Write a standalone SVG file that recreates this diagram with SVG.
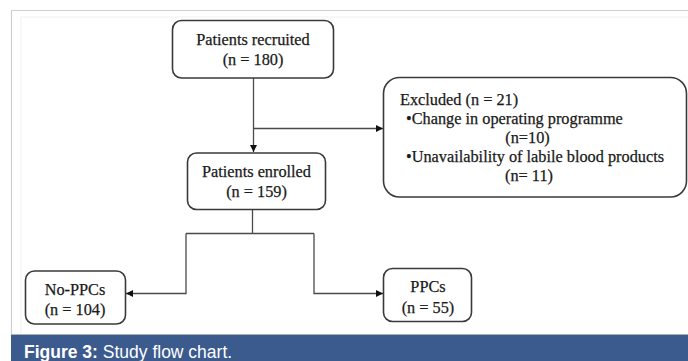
<svg xmlns="http://www.w3.org/2000/svg" width="688" height="361" viewBox="0 0 688 361">
<defs>
<style>
.box{fill:#fff;stroke:#3a3a3a;stroke-width:1.6}
.t{font-family:"Liberation Serif","Times New Roman",serif;font-size:16.3px;fill:#1a1a1a;stroke:#1a1a1a;stroke-width:0.25}
.c{text-anchor:middle}
.ln{fill:none;stroke:#4a4a4a;stroke-width:1.3}
</style>
<marker id="ah" viewBox="0 0 8 8" refX="8" refY="4" markerWidth="7" markerHeight="7" markerUnits="userSpaceOnUse" orient="auto">
<path d="M0,0 L8,4 L0,8 Z" fill="#111"/>
</marker>
</defs>
<rect x="0" y="0" width="688" height="361" fill="#fff"/>
<path d="M11.5,361 V10.5 H688" fill="none" stroke="#cfcfcf" stroke-width="1.2"/>
<rect x="21" y="17" width="680" height="320" fill="none" stroke="#f2f2f2" stroke-width="1"/>

<g id="connectors">
<path class="ln" d="M253.5,78 V152" marker-end="url(#ah)"/>
<path class="ln" d="M253.5,128.5 H383" marker-end="url(#ah)"/>
<path class="ln" d="M252.5,210 V233.5" stroke="#777"/>
<path class="ln" d="M186,233.5 H314"/>
<path class="ln" d="M186,233.5 V293.5 H126" marker-end="url(#ah)"/>
<path class="ln" d="M314,233.5 V293.5 H383" marker-end="url(#ah)"/>
</g>

<g id="recruited">
<rect class="box" x="172.5" y="20.5" width="161" height="57.5" rx="9"/>
<text class="t c" x="253" y="44.5">Patients recruited</text>
<text class="t c" x="253" y="64.5">(n = 180)</text>
</g>

<g id="excluded">
<rect class="box" x="383.5" y="77.5" width="303" height="119.5" rx="16"/>
<text class="t" x="400" y="105">Excluded (n = 21)</text>
<text class="t" x="406" y="124">•Change in operating programme</text>
<text class="t c" x="527.5" y="143">(n=10)</text>
<text class="t" x="406" y="162">•Unavailability of labile blood products</text>
<text class="t c" x="529" y="180.5">(n= 11)</text>
</g>

<g id="enrolled">
<rect class="box" x="187.5" y="153" width="138" height="56.5" rx="9"/>
<text class="t c" x="256.5" y="177">Patients enrolled</text>
<text class="t c" x="256.5" y="197">(n = 159)</text>
</g>

<g id="noppcs">
<rect class="box" x="25.5" y="271" width="100" height="53" rx="9"/>
<text class="t c" x="75" y="295">No-PPCs</text>
<text class="t c" x="75" y="315">(n = 104)</text>
</g>

<g id="ppcs">
<rect class="box" x="383.5" y="268.5" width="88" height="53" rx="9"/>
<text class="t c" x="428" y="292">PPCs</text>
<text class="t c" x="428" y="312.5">(n = 55)</text>
</g>

<g id="caption">
<rect x="11" y="334" width="677" height="27" fill="#3b5a8e"/>
<line x1="11" y1="334.5" x2="688" y2="334.5" stroke="#a9b0bb" stroke-width="1"/>
<text x="24" y="358" font-family="'Liberation Sans',Arial,sans-serif" font-size="17.5" fill="#fff"><tspan font-weight="bold">Figure 3:</tspan> Study flow chart.</text>
</g>
</svg>
